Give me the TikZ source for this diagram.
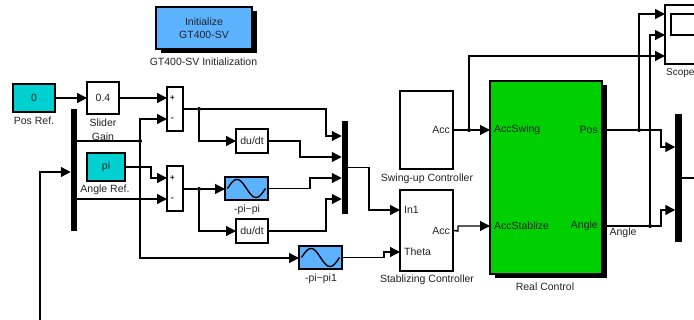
\documentclass[tikz,border=0pt]{standalone}
\usepackage{fontspec}
\setmainfont{Liberation Sans}
\usepackage{xcolor}
\usetikzlibrary{arrows.meta, shadows}

\definecolor{simcyan}{RGB}{0,208,208}
\definecolor{simblue}{RGB}{92,178,255}
\definecolor{simgreen}{RGB}{0,208,0}
\definecolor{simtext}{RGB}{35,35,40}

\tikzset{
    block/.style={rectangle, draw=black, line width=1.4pt, fill=white, inner sep=0pt, outer sep=0pt, text=simtext, font=\fontsize{10.5}{13}\selectfont, align=center},
    shade/.style={drop shadow={shadow xshift=4.5pt, shadow yshift=-4.5pt, fill=black, opacity=1}},
    bus/.style={rectangle, fill=black, inner sep=0pt, outer sep=0pt, minimum width=6.5pt},
    jct/.style={circle, fill=black, inner sep=0pt, minimum size=4pt},
    port/.style={inner sep=0pt, text=simtext, font=\fontsize{10.5}{13}\selectfont},
    sign/.style={inner sep=0pt, font=\fontsize{8}{10}\selectfont\bfseries},
    caption/.style={inner sep=0pt, text=simtext, font=\fontsize{10.5}{13}\selectfont, align=center},
    wire/.style={line width=1.4pt, draw=black},
    sig/.style={wire, -{Triangle[length=10pt, width=10pt]}},
    wave/.style={line width=1.4pt, line join=round}
}

\begin{document}
\begin{tikzpicture}[x=1pt, y=-1pt]
            \useasboundingbox (0, 0) rectangle (694, 320);

            \node[block, shade, fill=simblue, minimum width=96pt, minimum height=42pt] (init) at (204, 28) {Initialize\\GT400-SV};
            \node[block, fill=simcyan, minimum width=42pt, minimum height=28pt] (posref) at (34, 98) {0};
            \node[block, minimum width=32pt, minimum height=32pt] (slider) at (103, 98) {0.4};
            \node[block, fill=simcyan, minimum width=38pt, minimum height=28pt] (angleref) at (106, 167) {pi};
            \node[block, minimum width=16pt, minimum height=44pt] (sumA) at (175, 109) {};
            \node[block, minimum width=16pt, minimum height=45pt] (sumB) at (175, 188.5) {};
            \node[block, minimum width=32pt, minimum height=24pt] (dudtA) at (252, 141) {du/dt};
            \node[block, minimum width=32pt, minimum height=24pt] (dudtB) at (252, 231) {du/dt};
            \node[block, fill=simblue, minimum width=43pt, minimum height=23pt] (sineA) at (246.5, 188.5) {};
            \node[block, fill=simblue, minimum width=43pt, minimum height=23pt] (sineB) at (320.5, 257.5) {};
            \node[block, minimum width=53pt, minimum height=78pt] (swing) at (426.5, 130) {};
            \node[block, minimum width=53pt, minimum height=81pt] (stab) at (426.5, 230.5) {};
            \node[block, shade, fill=simgreen, minimum width=112pt, minimum height=193pt] (real) at (546, 177.5) {};
            \node[block, minimum width=70pt, minimum height=59pt] (scope) at (700, 34.5) {};
            \node[block, minimum width=58pt, minimum height=21pt] (screen) at (700, 24.5) {};

            \node[bus, minimum height=122pt] (busA) at (74, 170) {};
            \node[bus, minimum height=93pt] (busB) at (345, 167.5) {};
            \node[bus, minimum height=128pt] (busC) at (678.5, 178) {};

            \node[caption] (initcap) at (203.5, 62) {GT400-SV Initialization};
            \node[caption] (poscap) at (34, 121) {Pos Ref.};
            \node[caption] (slidercap) at (103, 123) {Slider};
            \node[caption] (gaincap) at (103, 136.5) {Gain};
            \node[caption] (anglecap) at (105, 190) {Angle Ref.};
            \node[caption] (sineAcap) at (247, 210) {-pi\textasciitilde pi};
            \node[caption] (sineBcap) at (321, 279) {-pi\textasciitilde pi1};
            \node[caption] (swingcap) at (427, 179) {Swing-up Controller};
            \node[caption] (stabcap) at (427, 280) {Stablizing Controller};
            \node[caption] (realcap) at (545, 287) {Real Control};
            \node[caption, anchor=west, font=\fontsize{10}{12}\selectfont] (scopecap) at (666, 73) {Scope};
            \node[caption] (anglewire) at (623, 233) {Angle};

            \node[sign] (plusA) at (172.5, 98) {+};
            \node[sign] (minusA) at (172.5, 119) {-};
            \node[sign] (plusB) at (172.5, 178) {+};
            \node[sign] (minusB) at (172.5, 199) {-};
            \node[port, anchor=east] (swingacc) at (450, 130) {Acc};
            \node[port, anchor=west] (stabin) at (404, 210) {In1};
            \node[port, anchor=west] (stabtheta) at (404, 252) {Theta};
            \node[port, anchor=east] (stabacc) at (450, 231) {Acc};
            \node[port, anchor=west] (realswing) at (494, 130) {AccSwing};
            \node[port, anchor=west] (realstab) at (494, 226) {AccStablize};
            \node[port, anchor=east] (realpos) at (598, 130) {Pos};
            \node[port, anchor=east] (realangle) at (598, 226) {Angle};

            \node[jct] (jctA) at (199, 109) {};
            \node[jct] (jctB) at (199, 189) {};
            \node[jct] (jctC) at (140, 141) {};
            \node[jct] (jctD) at (469, 130) {};
            \node[jct] (jctE) at (639, 130) {};
            \node[jct] (jctF) at (650, 226) {};

            \coordinate (feedback) at (40, 320);
            \coordinate (busout) at (694, 178);

            \draw[sig] (posref) -- (slider);
            \draw[sig] (slider) -- ([yshift=11pt]sumA.west);
            \draw[wire] (busA.east |- jctC) -- (jctC);
            \draw[sig] (jctC) -- (140, 119) -- ([yshift=-10pt]sumA.west);
            \draw[sig] (jctC) -- (140, 258) -- ([yshift=-0.5pt]sineB.west);
            \draw[sig] (angleref.east) -- (151, 167) -- (151, 178) -- ([yshift=10.5pt]sumB.west);
            \draw[sig] ([yshift=-29pt]busA.east) -- ([yshift=-10.5pt]sumB.west);
            \draw[sig] (feedback) |- ([yshift=-2pt]busA.west);

            \draw[wire] (sumA.east) -- (jctA);
            \draw[sig] (jctA) -- (326, 109) -- (326, 136) -- ([yshift=31.5pt]busB.west);
            \draw[sig] (jctA) |- (dudtA.west);
            \draw[sig] (dudtA.east) -- (300, 141) -- (300, 157) -- ([yshift=10.5pt]busB.west);
            \draw[wire] (sumB.east |- jctB) -- (jctB);
            \draw[sig] (jctB) -- (sineA.west |- jctB);
            \draw[sig] (jctB) |- (dudtB.west);
            \draw[sig] (sineA.east) -- (310, 188.5) -- (310, 178) -- ([yshift=-10.5pt]busB.west);
            \draw[sig] (dudtB.east) -- (326, 231) -- (326, 199) -- ([yshift=-31.5pt]busB.west);
            \draw[sig] (busB.east) -- (369, 167.5) -- (369, 210) -- (stab.west |- stabin);
            \draw[sig] (sineB.east) -- (384, 257.5) -- (384, 252) -- (stab.west |- stabtheta);

            \draw[wire] (swing.east) -- (jctD);
            \draw[sig] (jctD) -- (real.west |- jctD);
            \draw[sig] (jctD) -- (469, 56) -- (scope.west |- 0, 56);
            \draw[sig] (stab.east) -- (458, 231) -- (458, 226) -- (real.west |- realstab);
            \draw[wire] (real.east |- jctE) -- (jctE);
            \draw[wire] (real.east |- jctF) -- (jctF);
            \draw[sig] (jctE) -- (639, 14) -- (scope.west |- 0, 14);
            \draw[sig] (jctF) -- (650, 35) -- (scope.west |- 0, 35);
            \draw[sig] (jctE) -- (661, 130) -- (661, 147) -- ([yshift=31pt]busC.west);
            \draw[sig] (jctF) -- (661, 226) -- (661, 210) -- ([yshift=-32pt]busC.west);
            \draw[wire] (busC.east) -- (busout);

            \foreach \blk in {sineA, sineB} {
                \draw[wave, shift={(\blk.center)}] plot[domain=-19:19, samples=40, smooth] (\x, {-9*sin(360*(\x+19)/38)});
            }
        \end{tikzpicture}
\end{document}
